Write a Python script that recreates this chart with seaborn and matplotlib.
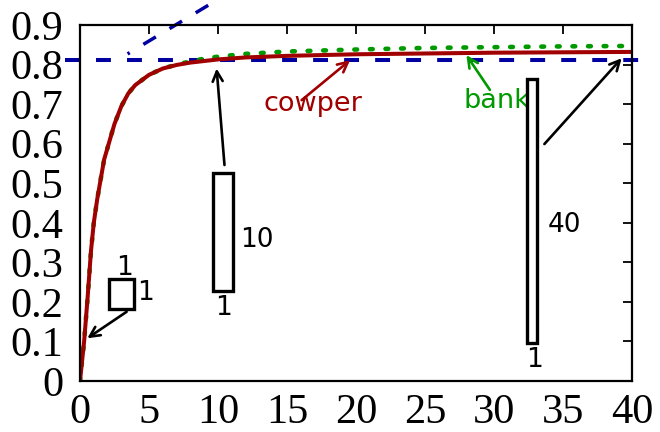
import matplotlib
matplotlib.use("Agg")
import matplotlib.pyplot as plt
from matplotlib.patches import Rectangle
import seaborn as sns
import pandas as pd

# Curve samples
x_vals = [0, 0.3, 0.55, 0.8, 1.0, 1.25, 1.5, 1.75, 2.0, 2.5, 3.0, 3.5, 4.0,
          5.0, 6.0, 7.0, 8.0, 9.0, 10, 12, 15, 20, 25, 30, 35, 40]
cowper = [0, 0.10, 0.21, 0.33, 0.40, 0.46, 0.51, 0.56, 0.59, 0.65, 0.695, 0.727,
          0.748, 0.774, 0.79, 0.799, 0.805, 0.809, 0.813, 0.818, 0.822, 0.826,
          0.828, 0.830, 0.831, 0.832]
bank = [0, 0.10, 0.21, 0.33, 0.40, 0.46, 0.51, 0.56, 0.59, 0.65, 0.695, 0.727,
        0.748, 0.774, 0.79, 0.80, 0.808, 0.815, 0.82, 0.827, 0.833, 0.838,
        0.842, 0.844, 0.846, 0.847]

# Reference lines
plateau_y = 0.812
plateau_x = [-1.1, 40.8]
slope_x = [3.45, 10.0]
slope_y = [0.827, 0.9648]

# Boxes: (x0, y0, width, height)
boxes = [(2.07, 0.181, 1.83, 0.078),
         (9.64, 0.228, 1.45, 0.299),
         (32.37, 0.095, 0.72, 0.668)]
# Box labels: (text, x, baseline y)
box_labels = [("1", 3.19, 0.268), ("1", 4.77, 0.204),
              ("10", 12.83, 0.339), ("1", 10.43, 0.167),
              ("40", 35.1, 0.377), ("1", 32.9, 0.036)]
# Arrows: (start, tip)
box_arrows = [((3.38, 0.175), (0.53, 0.108)),
              ((10.47, 0.546), (9.9, 0.790)),
              ((33.65, 0.599), (39.25, 0.816))]

x_ticks = [0, 5, 10, 15, 20, 25, 30, 35, 40]
y_ticks = [0, 0.1, 0.2, 0.3, 0.4, 0.5, 0.6, 0.7, 0.8, 0.9]
y_tick_labels = ["0", "0.1", "0.2", "0.3", "0.4", "0.5", "0.6", "0.7", "0.8", "0.9"]

RED = "#a00000"
GREEN = "#009a00"
BLUE = "#0000a0"

sns.set_theme(style="white")
plt.rcParams["font.family"] = ["DejaVu Sans"]

fig = plt.figure(figsize=(6.6, 4.32), dpi=100)
ax = fig.add_axes([0.1212, 0.1181, 0.8364, 0.8240])

df = pd.DataFrame({"x": x_vals, "cowper": cowper, "bank": bank})

ax.plot(plateau_x, [plateau_y, plateau_y], color=BLUE, lw=2.9,
        linestyle=(0, (3.7, 4.0)), clip_on=False, zorder=2)
ax.plot(slope_x, slope_y, color=BLUE, lw=2.5,
        linestyle=(3.5, (4.2, 4.6)), clip_on=False, zorder=2)

sns.lineplot(data=df, x="x", y="bank", ax=ax, color=GREEN, lw=3.3,
             linestyle=(0, (0.6, 2.8)), dash_capstyle="round", zorder=3)
sns.lineplot(data=df, x="x", y="cowper", ax=ax, color=RED, lw=2.9, zorder=4)

for (x0, y0, w, h) in boxes:
    ax.add_patch(Rectangle((x0, y0), w, h, facecolor="white",
                           edgecolor="black", lw=2.4, zorder=5))
for (t, tx, ty) in box_labels:
    ax.text(tx, ty, t, fontsize=19, ha="center", va="baseline", color="black")

arrow_kw = dict(arrowstyle="->,head_length=0.6,head_width=0.3", lw=1.9,
                shrinkA=0, shrinkB=0)
for (start, tip) in box_arrows:
    ax.annotate("", xy=tip, xytext=start,
                arrowprops=dict(color="black", **arrow_kw), zorder=6)

ax.annotate("", xy=(19.57, 0.811), xytext=(16.06, 0.710),
            arrowprops=dict(color=RED, **arrow_kw))
ax.text(16.85, 0.683, "cowper", fontsize=19.5, color=RED, ha="center", va="baseline")
ax.annotate("", xy=(28.0, 0.824), xytext=(29.7, 0.736),
            arrowprops=dict(color=GREEN, **arrow_kw))
ax.text(30.2, 0.689, "bank", fontsize=19.5, color=GREEN, ha="center", va="baseline")

ax.set_xlim(0, 40)
ax.set_ylim(0, 0.9)
ax.set_xticks(x_ticks)
ax.set_yticks(y_ticks)
ax.set_yticklabels(y_tick_labels)
ax.set_xlabel("")
ax.set_ylabel("")
for lab in ax.get_xticklabels() + ax.get_yticklabels():
    lab.set_family("Liberation Serif")
    lab.set_fontsize(30.5)
ax.tick_params(direction="in", top=True, right=True, length=6.5, width=1.3,
               color="black", labelcolor="black")
ax.tick_params(axis="x", pad=9)
ax.tick_params(axis="y", pad=12)
for sp in ax.spines.values():
    sp.set_color("black")
    sp.set_linewidth(1.6)
    sp.set_zorder(10)

fig.savefig("out.png", dpi=100)
